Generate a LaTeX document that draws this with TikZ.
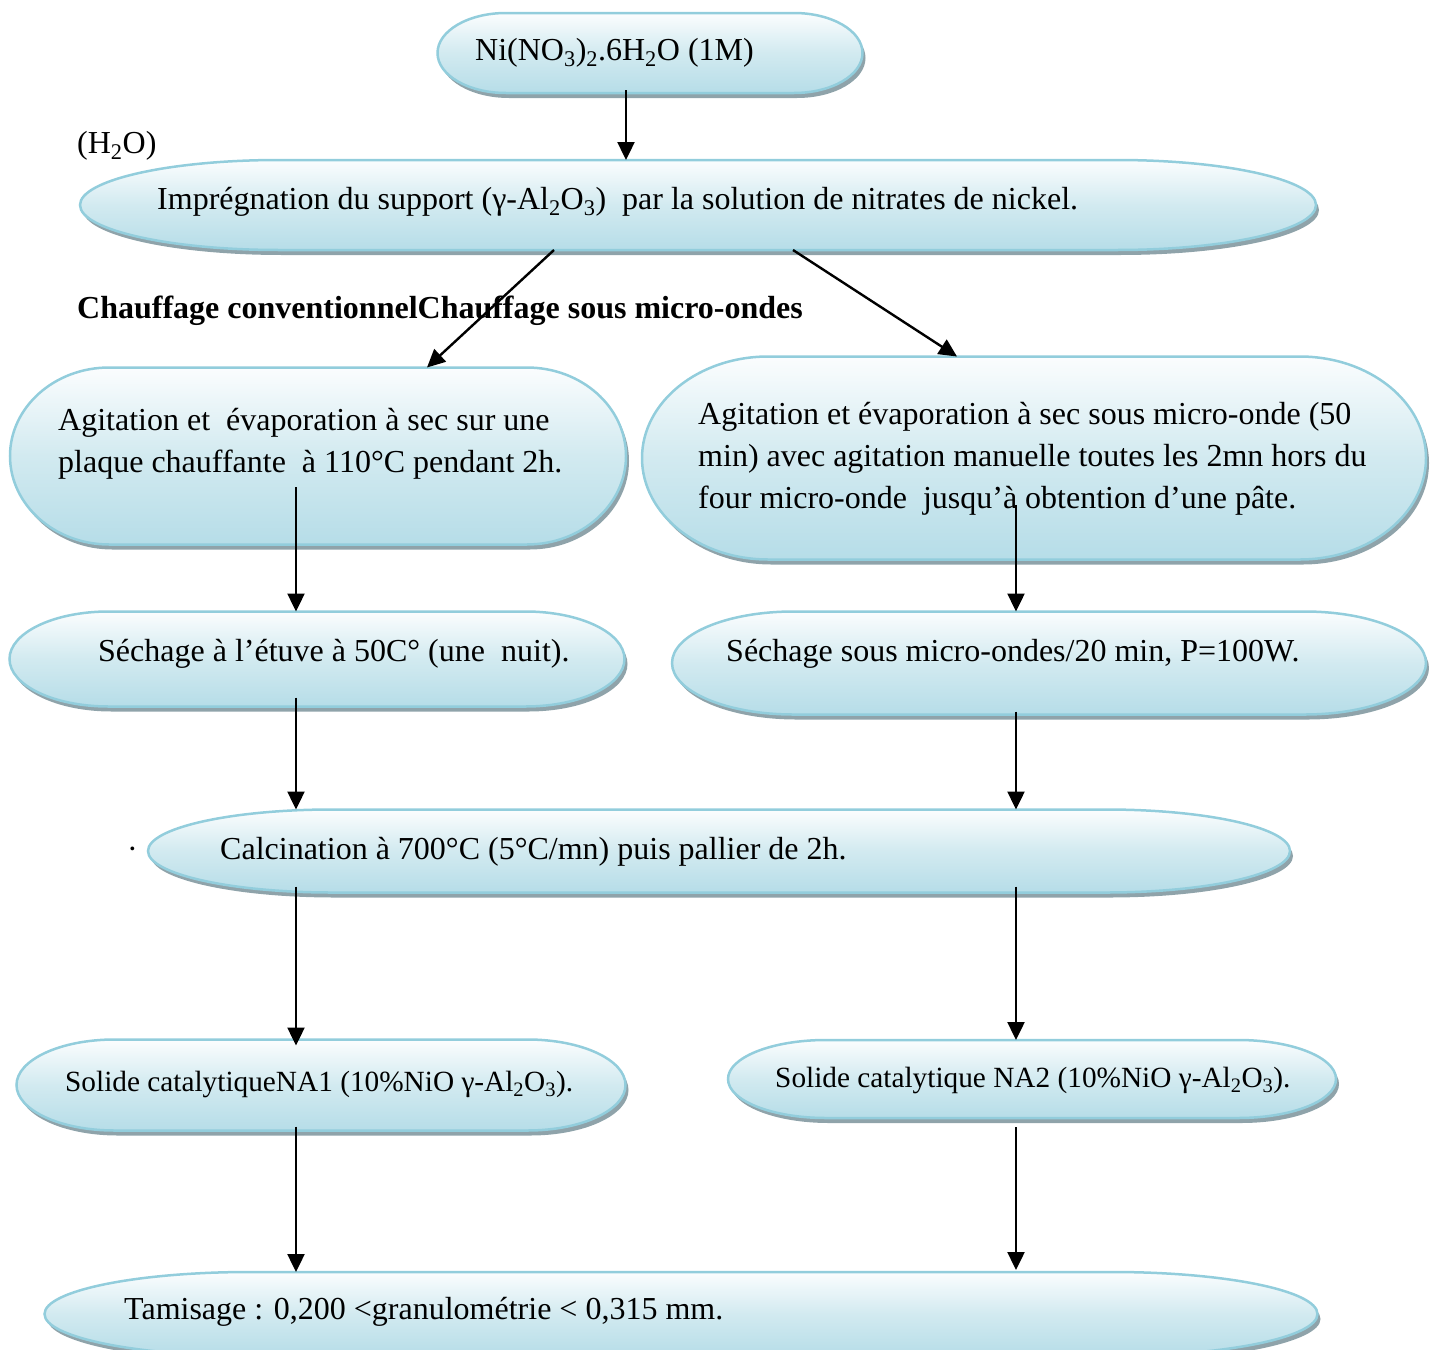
\documentclass[tikz,border=0pt]{standalone}
\usepackage{fontspec}
\setmainfont{Liberation Serif}
\usetikzlibrary{arrows.meta,shadows,calc}

\definecolor{pillline}{HTML}{92CDDC}
\definecolor{pilltop}{HTML}{FBFDFE}
\definecolor{pillmid}{HTML}{D2EAF0}
\definecolor{pillbot}{HTML}{B6DDE8}
\definecolor{pillshadow}{HTML}{8FA3AA}

\newcommand{\bigtxt}{\fontsize{32}{42}\selectfont}
\newcommand{\smalltxt}{\fontsize{29.3}{36}\selectfont}

\tikzset{
  box/.style={inner sep=0, outer sep=0},
  pill/.style={draw=pillline, line width=2.5pt,
    top color=pilltop, bottom color=pillbot, middle color=pillmid,
    drop shadow={shadow xshift=3pt, shadow yshift=-5pt, fill=pillshadow, opacity=1}},
  txt/.style={inner sep=0, anchor=west, align=left, font=\bigtxt, yshift=-3pt},
  arr/.style={line width=2.4pt, -{Triangle[width=17pt,length=18pt]}}
}

% terminator outline round a box node
\newcommand{\pillshape}[1]{%
  \path[pill] let \p1=(#1.north west), \p2=(#1.south east),
      \n1={0.161*(\x2-\x1)}, \n2={0.5*(\y1-\y2)} in
    (\x1+\n1,\y1) -- (\x2-\n1,\y1)
    arc[start angle=90, end angle=-90, x radius=\n1, y radius=\n2]
    -- (\x1+\n1,\y2)
    arc[start angle=270, end angle=90, x radius=\n1, y radius=\n2] -- cycle;}

\begin{document}
\begin{tikzpicture}[x=1pt, y=-1pt]
  \useasboundingbox (0,0) rectangle (1440,1349);
  \clip (0,0) rectangle (1440,1349);

  % boxes
  \node[box, minimum width=425pt, minimum height=80pt] (top) at (650,53) {};
  \node[box, minimum width=1236pt, minimum height=90pt] (imp) at (698,205) {};
  \node[box, minimum width=616pt, minimum height=177pt] (agL) at (318,456) {};
  \node[box, minimum width=784pt, minimum height=203pt] (agR) at (1034,458) {};
  \node[box, minimum width=615pt, minimum height=95pt] (sechL) at (317,659) {};
  \node[box, minimum width=754pt, minimum height=103pt] (sechR) at (1049,663) {};
  \node[box, minimum width=1142pt, minimum height=83pt] (calc) at (719,851) {};
  \node[box, minimum width=609pt, minimum height=91pt] (solL) at (321,1085) {};
  \node[box, minimum width=608pt, minimum height=78pt] (solR) at (1032,1079) {};
  \node[box, minimum width=1273pt, minimum height=84pt] (tam) at (681,1314) {};

  \foreach \b in {top,imp,agL,agR,sechL,sechR,calc,solL,solR,tam}
    \pillshape{\b};

  % texts
  \node[txt] (top-t) at (475,50) {Ni(NO\textsubscript{3})\textsubscript{2}.6H\textsubscript{2}O (1M)};
  \node[txt] (water) at (77,143) {(H\textsubscript{2}O)};
  \node[txt] (imp-t) at (157,199) {Imprégnation du support (γ-Al\textsubscript{2}O\textsubscript{3})\ \ par la solution de nitrates de nickel.};
  \node[txt, font=\bigtxt\bfseries] (heat) at (77,308) {Chauffage conventionnelChauffage sous micro-ondes};
  \node[txt] (agL-t) at (58,441) {Agitation et\ \ évaporation à sec sur une\\plaque chauffante\ \ à 110°C pendant 2h.};
  \node[txt] (agR-t) at (698,456) {Agitation et évaporation à sec sous micro-onde (50\\min) avec agitation manuelle toutes les 2mn hors du\\four micro-onde\ \ jusqu’à obtention d’une pâte.};
  \node[txt] (sechL-t) at (98,651) {Séchage à l’étuve à 50C° (une\ \ nuit).};
  \node[txt] (sechR-t) at (726,651) {Séchage sous micro-ondes/20 min, P=100W.};
  \node[txt] (dot) at (127,850) {·};
  \node[txt] (calc-t) at (220,849) {Calcination à 700°C (5°C/mn) puis pallier de 2h.};
  \node[txt, font=\smalltxt] (solL-t) at (65,1081) {Solide catalytiqueNA1 (10\%NiO γ-Al\textsubscript{2}O\textsubscript{3}).};
  \node[txt, font=\smalltxt] (solR-t) at (775,1077) {Solide catalytique NA2 (10\%NiO γ-Al\textsubscript{2}O\textsubscript{3}).};
  \node[txt] (tam-t) at (124,1309) {Tamisage : 0,200 <granulométrie < 0,315 mm.};

  % arrows
  \coordinate (colM) at (626,0);
  \coordinate (colL) at (296,0);
  \coordinate (colR) at (1016,0);
  \draw[arr] ($(top.south -| colM)+(0,-3)$) -- (imp.north -| colM);
  \draw[arr] ([xshift=-144pt]imp.south) -- ([xshift=109pt]agL.north);
  \draw[arr] ([xshift=95pt]imp.south) -- ([xshift=-77pt]agR.north);
  \draw[arr] ($(agL.center -| colL)+(0,31)$) -- (sechL.north -| colL);
  \draw[arr] ($(agR.center -| colR)+(0,47)$) -- (sechR.north -| colR);
  \draw[arr] ($(sechL.south -| colL)+(0,-9)$) -- (calc.north -| colL);
  \draw[arr] ($(sechR.south -| colR)+(0,-3)$) -- (calc.north -| colR);
  \draw[arr] ($(calc.south -| colL)+(0,-6)$) -- ($(solL.north -| colL)+(0,6)$);
  \draw[arr] ($(calc.south -| colR)+(0,-6)$) -- (solR.north -| colR);
  \draw[arr] ($(solL.south -| colL)+(0,-4)$) -- (tam.north -| colL);
  \draw[arr] ($(solR.south -| colR)+(0,9)$) -- ($(tam.north -| colR)+(0,-2)$);
\end{tikzpicture}
\end{document}
